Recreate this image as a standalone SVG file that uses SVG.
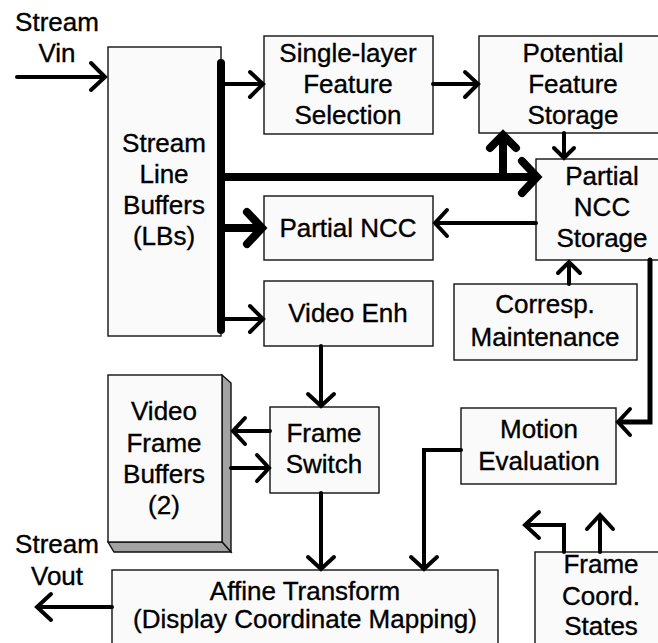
<svg xmlns="http://www.w3.org/2000/svg" width="658" height="643" viewBox="0 0 658 643">
  <style>
    .box { fill: #fafafa; stroke: #111; stroke-width: 1.4; }
    .lbl { font-family: "Liberation Sans", Arial, sans-serif; font-size: 26px; fill: #000; stroke: #000; stroke-width: 0.35; text-anchor: middle; }
    .w { fill: none; stroke: #000; stroke-width: 4; stroke-linecap: round; stroke-linejoin: miter; }
    .wk { fill: none; stroke: #000; stroke-width: 8; stroke-linecap: round; stroke-linejoin: miter; }
    .shade { fill: #a3a3a3; stroke: #111; stroke-width: 1.4; }
  </style>
  <rect width="658" height="643" fill="#ffffff"/>

  <!-- free-standing I/O labels -->
  <g id="stream-in">
    <text class="lbl" x="57" y="31">Stream</text>
    <text class="lbl" x="57" y="62">Vin</text>
  </g>
  <g id="stream-out">
    <text class="lbl" x="57" y="553">Stream</text>
    <text class="lbl" x="57" y="585">Vout</text>
  </g>

  <g id="line-buffers">
    <rect class="box" x="108" y="47" width="113" height="289"/>
    <text class="lbl" x="164" y="152">Stream</text>
    <text class="lbl" x="164" y="183">Line</text>
    <text class="lbl" x="164" y="214">Buffers</text>
    <text class="lbl" x="164" y="245">(LBs)</text>
  </g>

  <g id="feature-selection">
    <rect class="box" x="264" y="36" width="169" height="98"/>
    <text class="lbl" x="348" y="62">Single-layer</text>
    <text class="lbl" x="348" y="93">Feature</text>
    <text class="lbl" x="348" y="124">Selection</text>
  </g>

  <g id="potential-feature-storage">
    <rect class="box" x="479" y="36" width="190" height="97"/>
    <text class="lbl" x="573" y="62">Potential</text>
    <text class="lbl" x="573" y="93">Feature</text>
    <text class="lbl" x="573" y="124">Storage</text>
  </g>

  <g id="partial-ncc-storage">
    <rect class="box" x="536" y="159" width="133" height="101"/>
    <text class="lbl" x="602" y="185">Partial</text>
    <text class="lbl" x="602" y="216">NCC</text>
    <text class="lbl" x="602" y="247">Storage</text>
  </g>

  <g id="partial-ncc">
    <rect class="box" x="264" y="196" width="169" height="64"/>
    <text class="lbl" x="348" y="237">Partial NCC</text>
  </g>

  <g id="video-enh">
    <rect class="box" x="264" y="281" width="169" height="65"/>
    <text class="lbl" x="348" y="322">Video Enh</text>
  </g>

  <g id="corresp-maintenance">
    <rect class="box" x="454" y="284" width="183" height="76"/>
    <text class="lbl" x="545" y="313">Corresp.</text>
    <text class="lbl" x="545" y="346">Maintenance</text>
  </g>

  <g id="motion-evaluation">
    <rect class="box" x="461" y="408" width="155" height="76"/>
    <text class="lbl" x="539" y="438">Motion</text>
    <text class="lbl" x="539" y="470">Evaluation</text>
  </g>

  <g id="frame-switch">
    <rect class="box" x="270" y="407" width="109" height="86"/>
    <text class="lbl" x="324" y="442">Frame</text>
    <text class="lbl" x="324" y="473">Switch</text>
  </g>

  <g id="video-frame-buffers">
    <polygon class="shade" points="222,375 231,383 231,552 222,542"/>
    <polygon class="shade" points="108,542 222,542 231,552 114,552"/>
    <rect class="box" x="108" y="375" width="114" height="167"/>
    <text class="lbl" x="164" y="420">Video</text>
    <text class="lbl" x="164" y="452">Frame</text>
    <text class="lbl" x="164" y="483">Buffers</text>
    <text class="lbl" x="164" y="514">(2)</text>
  </g>

  <g id="affine-transform">
    <rect class="box" x="112" y="570" width="386" height="80"/>
    <text class="lbl" x="305" y="600">Affine Transform</text>
    <text class="lbl" x="305" y="628">(Display Coordinate Mapping)</text>
  </g>

  <g id="frame-coord-states">
    <rect class="box" x="535" y="552" width="134" height="98"/>
    <text class="lbl" x="601" y="573">Frame</text>
    <text class="lbl" x="601" y="605">Coord.</text>
    <text class="lbl" x="601" y="635">States</text>
  </g>

  <g id="connectors">
    <!-- input stream into the line buffers -->
    <line class="w" x1="17" y1="77" x2="104" y2="77"/>
    <polyline class="w" points="91,63 105,77 91,90"/>

    <!-- line-buffer output bus -->
    <line class="wk" x1="221" y1="63" x2="221" y2="330"/>

    <!-- bus to feature selection -->
    <line class="w" x1="221" y1="84" x2="262" y2="84"/>
    <polyline class="w" points="250,72 263,84 250,97"/>

    <!-- wide bus to partial NCC storage -->
    <line class="wk" x1="221" y1="177" x2="535" y2="177"/>
    <polyline class="wk" points="522,161 537,177 522,193"/>

    <!-- wide branch up to potential feature storage -->
    <line class="wk" x1="503" y1="177" x2="503" y2="137"/>
    <polyline class="wk" points="490,148 503,135 516,148"/>

    <!-- feature selection to potential storage -->
    <line class="w" x1="433" y1="84" x2="477" y2="84"/>
    <polyline class="w" points="465,72 478,84 465,97"/>

    <!-- potential storage down to partial NCC storage -->
    <line class="w" x1="564" y1="133" x2="564" y2="157"/>
    <polyline class="w" points="554,148 564,158 574,148"/>

    <!-- wide bus to partial NCC -->
    <line class="wk" x1="221" y1="228" x2="259" y2="228"/>
    <polyline class="wk" points="247,212 262,228 247,244"/>

    <!-- partial NCC storage back to partial NCC -->
    <line class="w" x1="536" y1="223" x2="437" y2="223"/>
    <polyline class="w" points="447,210 435,223 447,236"/>

    <!-- correspondence maintenance up to storage -->
    <line class="w" x1="569" y1="284" x2="569" y2="263"/>
    <polyline class="w" points="558,273 569,262 580,273"/>

    <!-- bus to video enhancement -->
    <line class="w" x1="221" y1="319" x2="262" y2="319"/>
    <polyline class="w" points="250,306 263,319 250,332"/>

    <!-- partial NCC storage to motion evaluation -->
    <polyline class="w" style="stroke-width:5" points="650,260 650,422 620,422"/>
    <polyline class="w" points="630,409 618,422 630,435"/>

    <!-- video enhancement to frame switch -->
    <line class="w" x1="321" y1="346" x2="321" y2="405"/>
    <polyline class="w" points="308,394 321,406 334,394"/>

    <!-- frame switch to frame buffers -->
    <line class="w" x1="270" y1="431" x2="235" y2="431"/>
    <polyline class="w" points="245,418 233,431 245,444"/>

    <!-- frame buffers to frame switch -->
    <line class="w" x1="231" y1="468" x2="268" y2="468"/>
    <polyline class="w" points="257,455 269,468 257,481"/>

    <!-- frame switch to affine transform -->
    <line class="w" x1="321" y1="493" x2="321" y2="568"/>
    <polyline class="w" points="308,557 321,569 334,557"/>

    <!-- motion evaluation to affine transform -->
    <polyline class="w" points="461,450 424,450 424,568"/>
    <polyline class="w" points="411,557 424,569 437,557"/>

    <!-- affine transform to output stream -->
    <line class="w" x1="112" y1="607" x2="38" y2="607"/>
    <polyline class="w" points="51,594 37,607 51,620"/>

    <!-- frame coordinate state outputs -->
    <polyline class="w" points="564,552 564,525 527,525"/>
    <polyline class="w" points="539,512 525,525 539,538"/>
    <line class="w" x1="600" y1="552" x2="600" y2="517"/>
    <polyline class="w" points="587,529 600,515 613,529"/>
  </g>
</svg>
